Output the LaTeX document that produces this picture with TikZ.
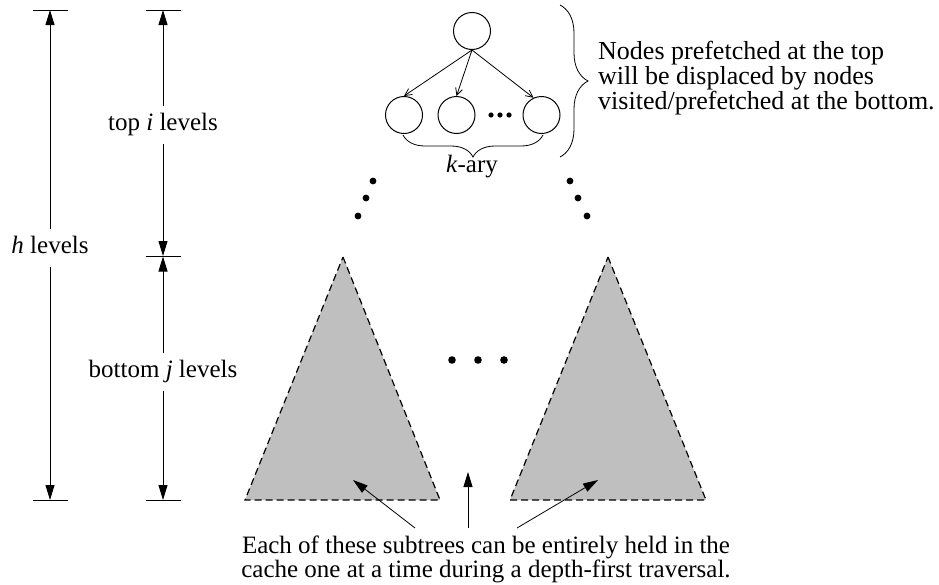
\documentclass[tikz,border=0pt]{standalone}
\usepackage{fontspec}
\setmainfont{Liberation Serif}
\usepackage{tikz}
\usetikzlibrary{arrows.meta,decorations.pathreplacing}
\definecolor{subtreegray}{gray}{0.75}

\begin{document}
\begin{tikzpicture}[x=1pt,y=-1pt,
    font=\fontsize{25}{18}\selectfont,
    dim/.style={line width=1pt,-{Triangle[length=15pt,width=9pt]}},
    lvl/.style={inner xsep=0pt,inner ysep=8pt,text height=16pt,text depth=5pt},
    treenode/.style={circle,draw,line width=1pt,minimum size=37pt,inner sep=0pt},
    treearrow/.style={line width=0.8pt,-{Straight Barb[length=7pt,width=7pt]}},
    subtree/.style={fill=subtreegray,draw,line width=1.2pt,dash pattern=on 7pt off 4pt},
    pointer/.style={line width=0.8pt,-{Triangle[length=15pt,width=9pt]}}]
  \useasboundingbox (0,0) rectangle (939,584);

  % height marks on the left
  \coordinate (hT) at (50,10);
  \coordinate (hB) at (50,500);
  \coordinate (iT) at (163,10);
  \coordinate (iB) at (163,256);
  \coordinate (jB) at (163,500);
  \foreach \c in {hT,hB,iT,iB,jB}
    \draw[line width=1pt] ([xshift=-17.5pt]\c) -- ([xshift=17.5pt]\c);
  \node[lvl] (hlab) at (50,248) {\textit{h} levels};
  \node[lvl] (ilab) at (163,125) {top \textit{i} levels};
  \node[lvl] (jlab) at (163,372) {bottom \textit{j} levels};
  \draw[dim] (hlab) -- (hT);
  \draw[dim] (hlab) -- (hB);
  \draw[dim] (ilab) -- (iT);
  \draw[dim] (ilab) -- (iB);
  \draw[dim] (jlab) -- ([yshift=-0.5pt]iB);
  \draw[dim] (jlab) -- (jB);

  % k-ary node at the top
  \node[treenode] (root) at (472,31) {};
  \node[treenode] (c1) at (404,115) {};
  \node[treenode] (c2) at (456.5,115) {};
  \node[treenode] (c3) at (541.5,115) {};
  \draw[treearrow] (root.south) -- (c1.north);
  \draw[treearrow] (root.south) -- (c2.north);
  \draw[treearrow] (root.south) -- (c3.115);
  \foreach \x in {491,500,509}
    \fill (\x,115) circle (2.6pt);
  \draw[decorate,decoration={brace,amplitude=22pt},line width=0.8pt] (543,135) -- (403,135);
  \node[anchor=base] (kary) at (472,172) {\textit{k}-ary};

  \draw[decorate,decoration={brace,amplitude=28pt},line width=0.8pt] (560,5) -- (560,157);
  \node[anchor=north west,align=left,inner sep=0pt,font=\fontsize{26}{18}\selectfont] (topnote) at (598,41)
    {Nodes prefetched at the top\\will be displaced by nodes\\visited/prefetched at the bottom.};

  % levels in between
  \foreach \x/\y in {373/181,366/198,358/216,570/181,578/198,587/216}
    \fill (\x,\y) circle (3.4pt);

  % subtrees at the bottom
  \draw[subtree] (343,257) -- (440,500) -- (245,500) -- cycle;
  \draw[subtree] (608,257) -- (706,500) -- (510,500) -- cycle;
  \foreach \x in {452,478,504}
    \fill (\x,360) circle (3.8pt);

  \coordinate (p1) at (353,480);
  \coordinate (p2) at (468,472);
  \coordinate (p3) at (598,480);
  \node[anchor=north,align=center,inner sep=0pt] (note) at (486,536)
    {Each of these subtrees can be entirely held in the\\cache one at a time during a depth-first traversal.};
  \draw[pointer] ([xshift=-71pt,yshift=8pt]note.north) -- (p1);
  \draw[pointer] ([xshift=-18pt,yshift=8pt]note.north) -- (p2);
  \draw[pointer] ([xshift=31pt,yshift=8pt]note.north) -- (p3);
\end{tikzpicture}
\end{document}
